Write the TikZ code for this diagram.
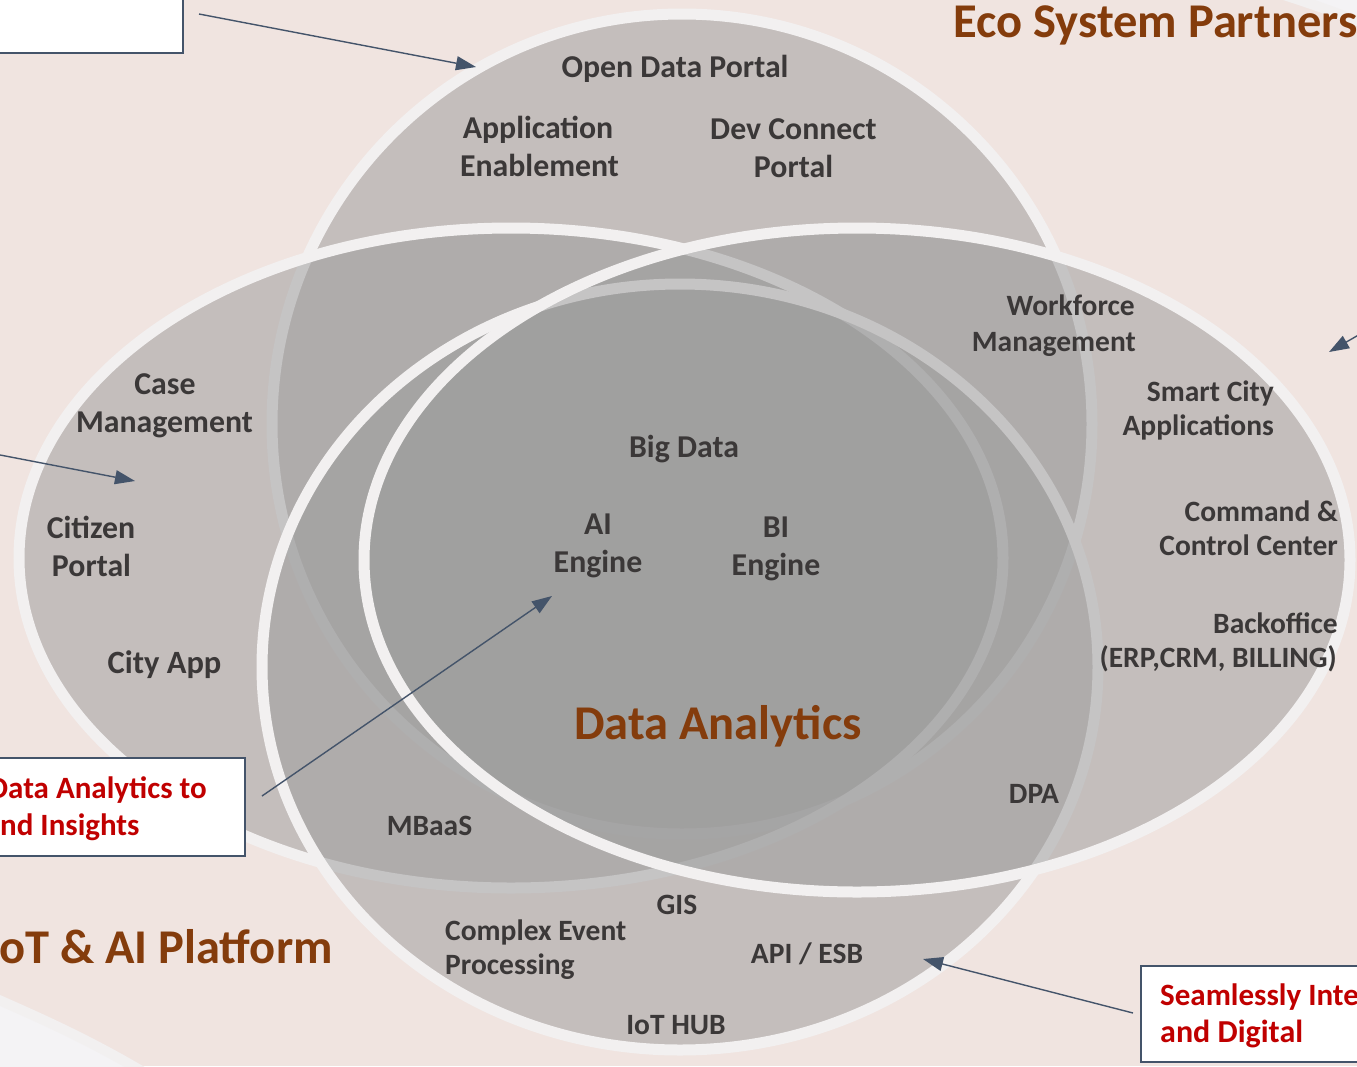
\documentclass[tikz,border=0pt]{standalone}
\usepackage{fontspec}
\setmainfont{Carlito}
\usetikzlibrary{arrows.meta}
\definecolor{bgpink}{RGB}{240,228,224}
\definecolor{corner}{RGB}{244,243,245}
\definecolor{vennfill}{RGB}{157,157,157}
\definecolor{vennline}{RGB}{242,240,240}
\definecolor{itemgray}{RGB}{59,56,56}
\definecolor{titlebrown}{RGB}{132,60,12}
\definecolor{calred}{RGB}{192,0,0}
\definecolor{slate}{RGB}{68,84,106}
\newcommand\fsz[2]{\fontsize{#1}{#2}\selectfont}
\tikzset{
  venn/.style={fill=vennfill, fill opacity=0.53, draw=vennline, draw opacity=1, line width=11pt},
  itemA/.style={text=itemgray, inner sep=0pt, anchor=base, font=\fsz{31.8}{38}\bfseries},
  itemB/.style={text=itemgray, inner sep=0pt, anchor=base, font=\fsz{29.5}{35}\bfseries},
  title/.style={text=titlebrown, inner sep=0pt, font=\fsz{48.5}{56}\bfseries},
  callout/.style={fill=white, draw=slate, line width=2.5pt},
  callouttext/.style={text=calred, inner sep=0pt, font=\fsz{31}{38}\bfseries},
  pointer/.style={draw=slate, line width=1.4pt, -{Triangle[length=20pt,width=14pt]}},
}
\begin{document}
\begin{tikzpicture}[x=1pt,y=-1pt]
\useasboundingbox (0,0) rectangle (1357,1066);
\clip (0,0) rectangle (1357,1066);
% background
\fill[bgpink] (0,0) rectangle (1357,1066);
\fill[corner] (1268,-10) .. controls (1300,0) and (1330,10) .. (1370,26) -- (1370,-10) -- cycle;
\draw[vennline, line width=10pt] (1268,-10) .. controls (1300,0) and (1330,10) .. (1370,26);
\fill[corner] (-10,996) .. controls (40,1018) and (90,1040) .. (150,1076) -- (-10,1076) -- cycle;
\draw[vennline, line width=10pt] (-10,996) .. controls (40,1018) and (90,1040) .. (150,1076);

% venn shapes (bottom to top)
\path[venn] (682,424) circle[radius=410];
\path[venn] (511,558) circle[x radius=492, y radius=330];
\path[venn] (680,667) circle[x radius=418, y radius=383];
\path[venn] (857,560) circle[x radius=493, y radius=332];

% titles
\node[title, anchor=base west] (eco) at (953,37) {Eco System Partners};
\node[title, anchor=base west] (iot) at (-1,963) {oT \& AI Platform};
\node[title, anchor=base] (da) at (718,739) {Data Analytics};

% top circle items
\node[itemA] (odp) at (675,77) {Open Data Portal};
\node[itemA] (app1) at (538,138) {Application};
\node[itemA] (app2) at (539.5,176) {Enablement};
\node[itemA] (dev1) at (793.5,139) {Dev Connect};
\node[itemA] (dev2) at (793.5,177) {Portal};

% right ellipse items
\node[itemB, anchor=base east] (wf1) at (1135,315.5) {Workforce};
\node[itemB, anchor=base east] (wf2) at (1136,351.5) {Management};
\node[itemB, anchor=base east] (sc1) at (1274,401.5) {Smart City};
\node[itemB, anchor=base east] (sc2) at (1274,435.5) {Applications};
\node[itemB, anchor=base east] (cc1) at (1338,521.5) {Command \&};
\node[itemB, anchor=base east] (cc2) at (1338,555.5) {Control Center};
\node[itemB, anchor=base east] (bo1) at (1338,633.5) {Backoffice};
\node[itemB, anchor=base east] (bo2) at (1337,667.5) {(ERP,CRM, BILLING)};
\node[itemB] (dpa) at (1034,803.5) {DPA};

% left ellipse items
\node[itemA] (cm1) at (165,394) {Case};
\node[itemA] (cm2) at (164.5,432) {Management};
\node[itemA] (cp1) at (91,538) {Citizen};
\node[itemA] (cp2) at (91.5,576) {Portal};
\node[itemA, font=\fsz{32.5}{38}\bfseries] (city) at (164.5,673.5) {City App};

% centre items
\node[itemA] (bd) at (684,457) {Big Data};
\node[itemA] (ai1) at (598,534) {AI};
\node[itemA] (ai2) at (598,572) {Engine};
\node[itemA] (bi1) at (776,537) {BI};
\node[itemA] (bi2) at (776,575) {Engine};

% bottom circle items
\node[itemB] (mbaas) at (429.5,835.5) {MBaaS};
\node[itemB] (gis) at (677,914.5) {GIS};
\node[itemB, anchor=base west] (cep1) at (445,940.5) {Complex Event};
\node[itemB, anchor=base west] (cep2) at (445,974.5) {Processing};
\node[itemB] (api) at (807,963.5) {API / ESB};
\node[itemB] (hub) at (676,1034.5) {IoT HUB};

% callout boxes
\draw[callout] (-20,-20) rectangle (183,53);
\draw[callout] (-20,758) rectangle (245,856);
\draw[callout] (1141,966) rectangle (1380,1062);
\node[callouttext, anchor=base east] (ct1) at (207,798) {Data Analytics to};
\node[callouttext, anchor=base west] (ct2) at (0,835) {nd Insights};
\node[callouttext, anchor=base west] (ct3) at (1160,1005) {Seamlessly Inte};
\node[callouttext, anchor=base west, font=\fsz{32}{38}\bfseries] (ct4) at (1160,1042) {and Digital};

% pointers
\coordinate (s1) at (199,14);   \coordinate (t1) at (476,67);
\coordinate (s2) at (-5,454);   \coordinate (t2) at (135,481);
\coordinate (s3) at (1362,333); \coordinate (t3) at (1329,352);
\coordinate (s4) at (262,796);  \coordinate (t4) at (552,596);
\coordinate (s5) at (1133,1013);\coordinate (t5) at (923,959);
\draw[pointer] (s1) -- (t1);
\draw[pointer] (s2) -- (t2);
\draw[pointer] (s3) -- (t3);
\draw[pointer] (s4) -- (t4);
\draw[pointer] (s5) -- (t5);
\end{tikzpicture}
\end{document}
